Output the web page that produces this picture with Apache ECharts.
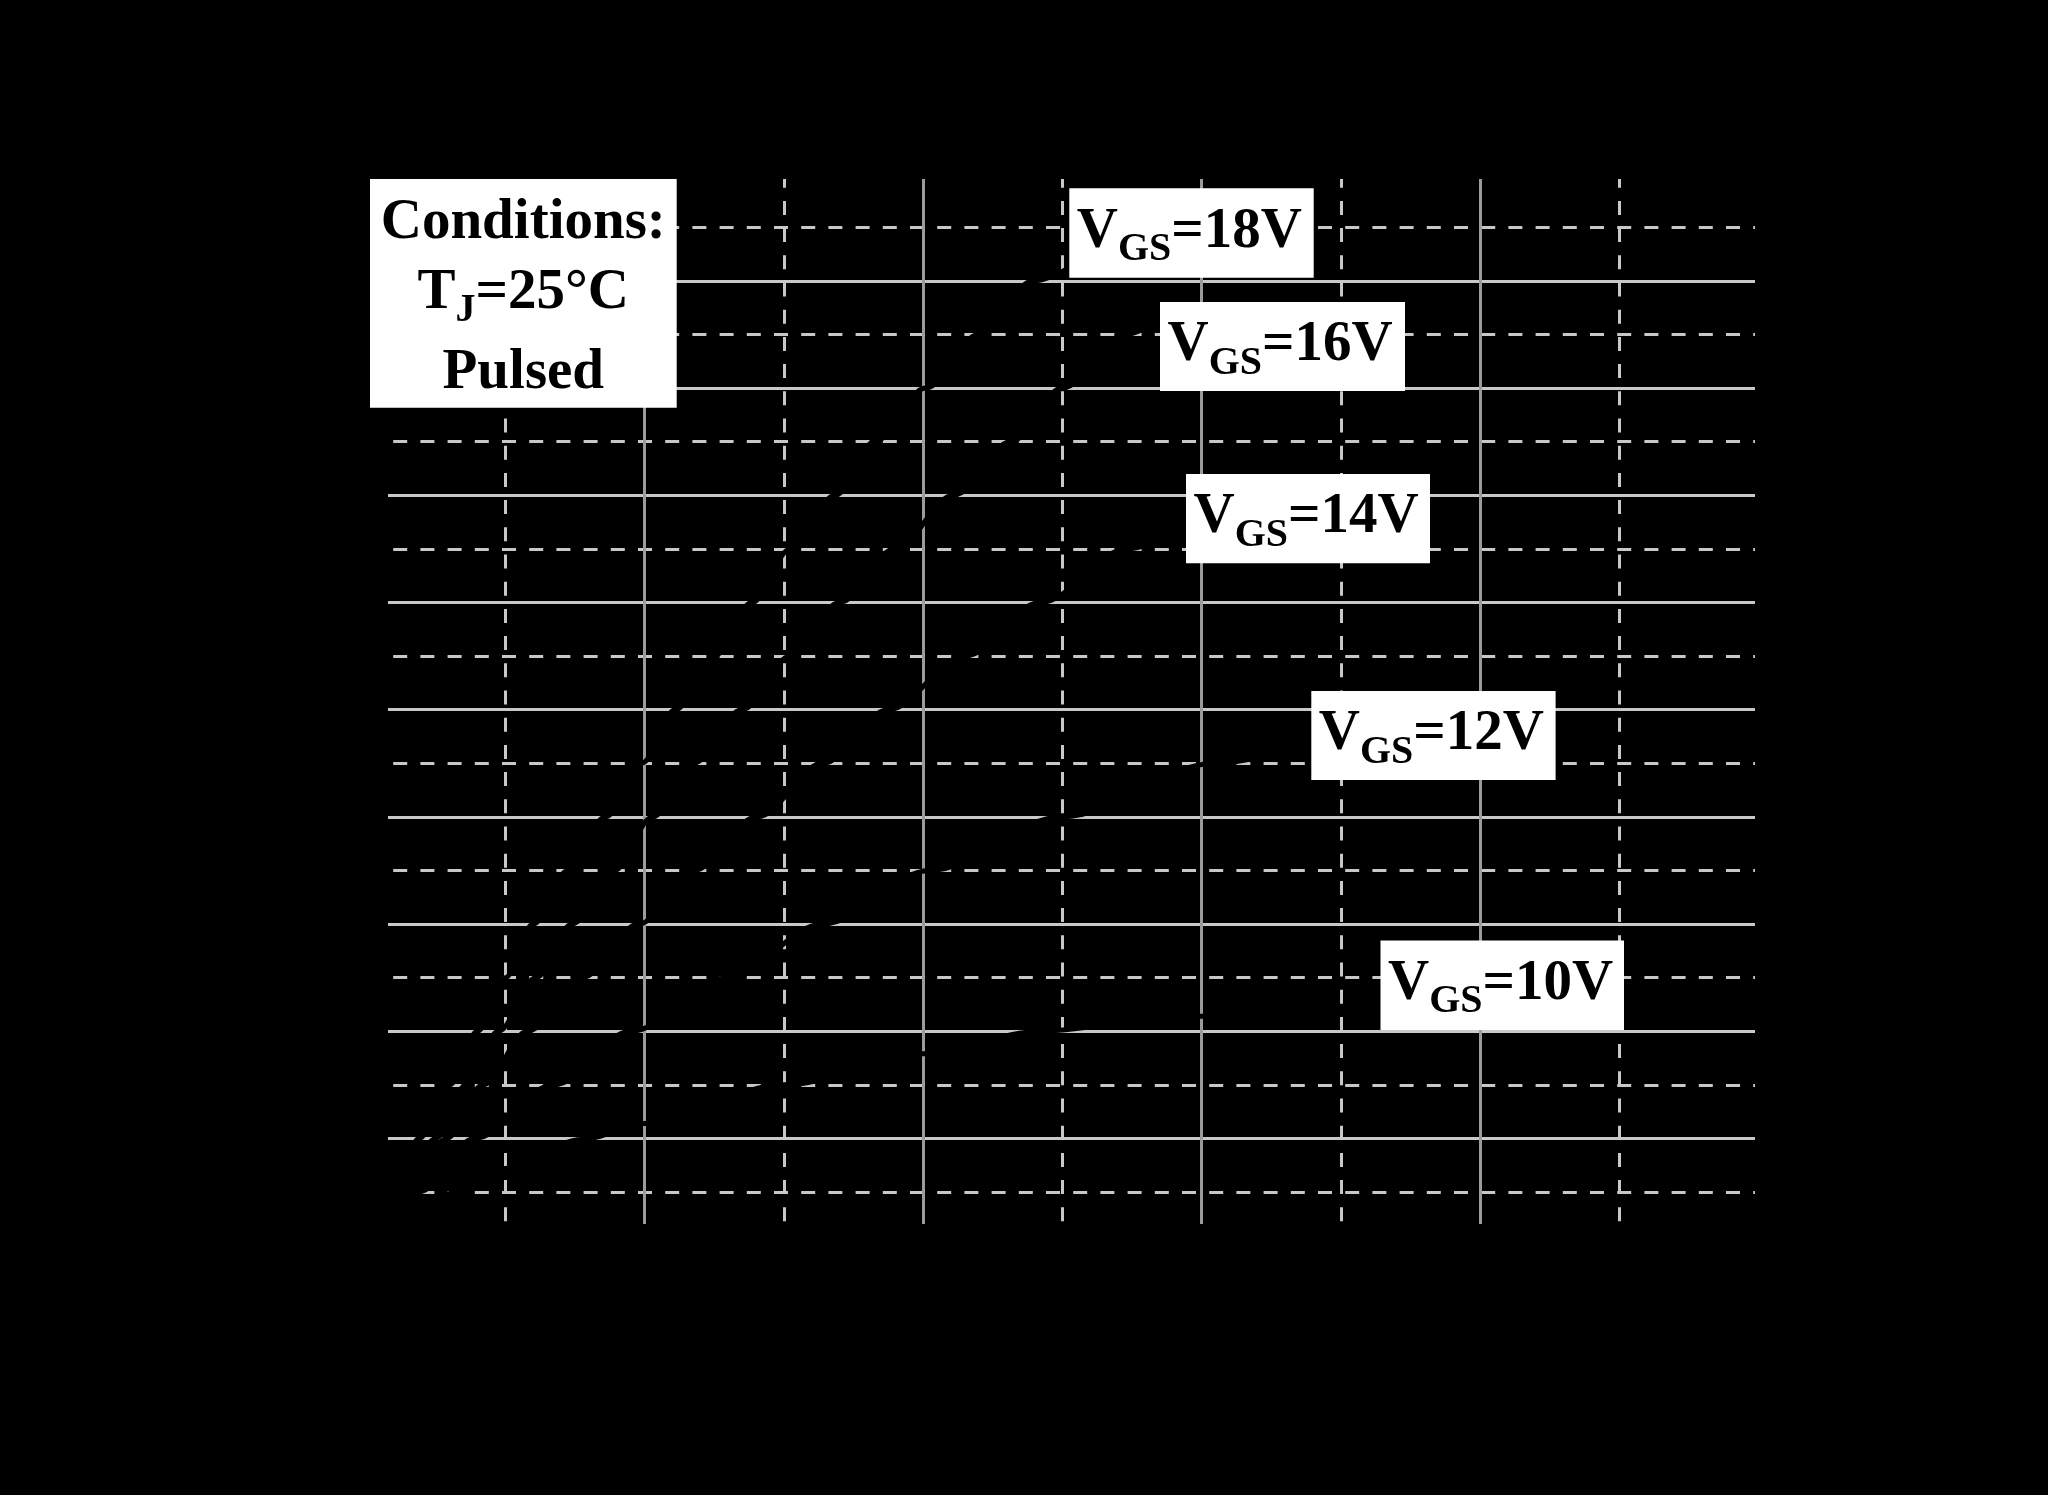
<!DOCTYPE html>
<html><head><meta charset="utf-8">
<script src="https://cdn.jsdelivr.net/npm/echarts@6/dist/echarts.min.js"></script>
<style>html,body{margin:0;padding:0;background:#000;}#c{width:2048px;height:1495px;}</style>
</head><body><div id="c"></div>
<script>
// ---- data (VDS in V, IDS in A) ----
const vds10 = [0, 0.3, 0.65, 1.0, 1.55, 2.0, 3.0, 4.0, 4.85, 5.35, 6.0, 6.7, 7.4];
const ids10 = [0, 2.4, 5.0, 7.2, 9.9, 11.4, 15.0, 17.9, 20.0, 20.5, 21.4, 22.0, 22.4];
const vds12 = [0, 0.38, 0.78, 1.35, 1.9, 2.6, 3.28, 4.05, 5.0, 6.1, 6.9];
const ids12 = [0, 5, 10, 15, 20, 25, 30, 35, 40, 45, 47.3];
const vds14 = [0, 0.3, 0.58, 0.84, 1.16, 1.55, 1.96, 2.35, 2.81, 3.28, 3.75, 4.3, 4.84, 5.47, 6.0];
const ids14 = [0, 5, 10, 15, 20, 25, 30, 35, 40, 45, 50, 55, 60, 65, 68.3];
const vds16 = [0, 0.25, 0.5, 0.72, 0.95, 1.22, 1.48, 1.78, 2.06, 2.35, 2.7, 3.05, 3.4, 3.8, 4.22, 4.63, 5.0, 5.45, 5.8];
const ids16 = [0, 5, 10, 15, 20, 25, 30, 35, 40, 45, 50, 55, 60, 65, 70, 75, 80, 85, 87.3];
const vds18 = [0, 0.2, 0.38, 0.6, 0.8, 1.0, 1.2, 1.45, 1.72, 1.98, 2.22, 2.5, 2.77, 3.05, 3.37, 3.65, 4.02, 4.4, 4.79, 5.15];
const ids18 = [0, 5, 10, 15, 20, 25, 30, 35, 40, 45, 50, 55, 60, 65, 70, 75, 80, 85, 90, 92];
const seriesNames = ['VGS=10V', 'VGS=12V', 'VGS=14V', 'VGS=16V', 'VGS=18V'];
const labelValues = ['=10V', '=12V', '=14V', '=16V', '=18V'];
const conditionLines = ['Conditions:', 'T', 'J', '=25°C', 'Pulsed'];
const xMin = 0, xMax = 10, xStep = 2;
const yMin = 0, yMax = 100, yStep = 10;

// ---- layout (pixels) ----
const L = {
  grid: {left: 366, right: 289.2, top: 173.7, bottom: 249.4},
  cond: {x: 370, y: 179, w: 306.7, h: 228.7, cx: 523.3, b1: 238.3, b2: 307.7, b3: 388.3},
  boxes: [
    {x: 1380.5, y: 940.5, w: 243.5, h: 89.5},
    {x: 1311.3, y: 691, w: 244.3, h: 89},
    {x: 1186, y: 474, w: 244, h: 89.3},
    {x: 1160, y: 302, w: 245, h: 89},
    {x: 1069.3, y: 188.3, w: 244.4, h: 89.4}
  ],
  big: 57, small: 40, padL: 7.5, baseMain: 58.4, baseSub: 71.7, subDrop: 13.3
};
const FAM = '"Liberation Serif", "Times New Roman", serif';
const mctx = document.createElement('canvas').getContext('2d');
function fnt(fs) { return 'bold ' + fs + 'px ' + FAM; }
function tw(t, fs) { mctx.font = fnt(fs); mctx.textBaseline = 'alphabetic'; return mctx.measureText(t).width; }
function baseOff(fs) {
  mctx.font = fnt(fs);
  mctx.textBaseline = 'alphabetic';
  const a = mctx.measureText('H').actualBoundingBoxAscent;
  mctx.textBaseline = 'middle';
  const m = mctx.measureText('H').actualBoundingBoxAscent;
  mctx.textBaseline = 'alphabetic';
  return a - m;
}

function txt(t, x, baseline, fs, z) {
  return {type: 'text', x: x, y: baseline - baseOff(fs), z: z, silent: true,
    style: {text: t, fill: '#000', fontFamily: FAM, fontWeight: 'bold', fontSize: fs,
      font: fnt(fs), align: 'left', verticalAlign: 'middle', textAlign: 'left', textVerticalAlign: 'middle'}};
}

const graphics = [];
// black covers at plot edges (the frame of the original is black)
const cov = {type: 'rect', z: 50, silent: true, style: {fill: '#000'}};
graphics.push(Object.assign({}, cov, {shape: {x: 0, y: 0, width: 388, height: 1495}}));
graphics.push(Object.assign({}, cov, {shape: {x: 1755, y: 0, width: 293, height: 1495}}));
graphics.push(Object.assign({}, cov, {shape: {x: 0, y: 0, width: 2048, height: 179}}));
graphics.push(Object.assign({}, cov, {shape: {x: 0, y: 1224, width: 2048, height: 271}}));

// conditions box
const c = L.cond;
graphics.push({type: 'rect', z: 100, silent: true, shape: {x: c.x, y: c.y, width: c.w, height: c.h}, style: {fill: '#fff'}});
graphics.push(txt(conditionLines[0], c.cx - tw(conditionLines[0], L.big) / 2, c.b1, L.big, 101));
{
  const wT = tw(conditionLines[1], L.big), wJ = tw(conditionLines[2], L.small), wR = tw(conditionLines[3], L.big);
  const x0 = c.cx - (wT + wJ + wR) / 2;
  graphics.push(txt(conditionLines[1], x0, c.b2, L.big, 101));
  graphics.push(txt(conditionLines[2], x0 + wT, c.b2 + L.subDrop, L.small, 101));
  graphics.push(txt(conditionLines[3], x0 + wT + wJ, c.b2, L.big, 101));
}
graphics.push(txt(conditionLines[4], c.cx - tw(conditionLines[4], L.big) / 2, c.b3, L.big, 101));

// VGS label boxes
L.boxes.forEach(function (b, i) {
  graphics.push({type: 'rect', z: 100, silent: true, shape: {x: b.x, y: b.y, width: b.w, height: b.h}, style: {fill: '#fff'}});
  const x0 = b.x + L.padL;
  const wV = tw('V', L.big), wGS = tw('GS', L.small);
  graphics.push(txt('V', x0, b.y + L.baseMain, L.big, 101));
  graphics.push(txt('GS', x0 + wV, b.y + L.baseSub, L.small, 101));
  graphics.push(txt(labelValues[i], x0 + wV + wGS, b.y + L.baseMain, L.big, 101));
});

function zip(a, b) { return a.map(function (v, i) { return [v, b[i]]; }); }
const curves = [[vds10, ids10], [vds12, ids12], [vds14, ids14], [vds16, ids16], [vds18, ids18]];

const chart = echarts.init(document.getElementById('c'), null, {renderer: 'canvas'});
chart.setOption({
  backgroundColor: '#000',
  animation: false,
  grid: Object.assign({containLabel: false}, L.grid),
  xAxis: {
    type: 'value', min: xMin, max: xMax, interval: xStep,
    axisLine: {show: false}, axisTick: {show: false}, axisLabel: {show: false},
    splitLine: {show: true, lineStyle: {color: '#9b9b9b', width: 3}},
    minorTick: {show: false, splitNumber: 2},
    minorSplitLine: {show: true, lineStyle: {color: '#c8c8c8', width: 3, type: [14, 13.2]}}
  },
  yAxis: {
    type: 'value', min: yMin, max: yMax, interval: yStep,
    axisLine: {show: false}, axisTick: {show: false}, axisLabel: {show: false},
    splitLine: {show: true, lineStyle: {color: '#c8c8c8', width: 3}},
    minorTick: {show: false, splitNumber: 2},
    minorSplitLine: {show: true, lineStyle: {color: '#c8c8c8', width: 3, type: [14, 13.2]}}
  },
  series: curves.map(function (cv, i) {
    return {name: seriesNames[i], type: 'line', data: zip(cv[0], cv[1]), smooth: 0.35,
      smoothMonotone: 'x', symbol: 'none', showSymbol: false, z: 3,
      lineStyle: {color: '#000', width: 5}};
  }),
  graphic: {elements: graphics}
});
</script></body></html>
